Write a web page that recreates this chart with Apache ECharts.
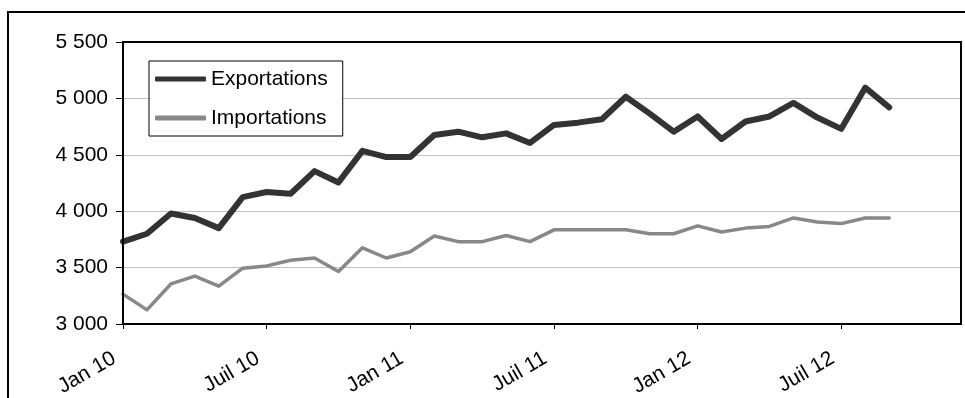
<!DOCTYPE html>
<html>
<head>
<meta charset="utf-8">
<script src="https://cdn.jsdelivr.net/npm/echarts@6/dist/echarts.min.js"></script>
<style>
  html, body { margin: 0; padding: 0; background: #fff; }
  #chart { width: 965px; height: 398px; }
</style>
</head>
<body>
<div id="chart"></div>
<script>
// Monthly categories, Jan 2010 to Dec 2012
const categories = [
  'Jan 10','Fév 10','Mars 10','Avr 10','Mai 10','Juin 10','Juil 10','Août 10','Sept 10','Oct 10','Nov 10','Déc 10',
  'Jan 11','Fév 11','Mars 11','Avr 11','Mai 11','Juin 11','Juil 11','Août 11','Sept 11','Oct 11','Nov 11','Déc 11',
  'Jan 12','Fév 12','Mars 12','Avr 12','Mai 12','Juin 12','Juil 12','Août 12','Sept 12','Oct 12','Nov 12','Déc 12'
];

const exportations = [
  3730, 3800, 3980, 3940, 3850, 4125, 4170, 4155, 4355, 4255, 4535, 4480,
  4480, 4675, 4705, 4655, 4690, 4605, 4765, 4785, 4815, 5015, 4865, 4705,
  4840, 4640, 4795, 4840, 4960, 4830, 4730, 5095, 4920
];

const importations = [
  3265, 3125, 3355, 3425, 3335, 3495, 3515, 3565, 3585, 3465, 3675, 3585,
  3640, 3780, 3730, 3730, 3785, 3730, 3835, 3835, 3835, 3835, 3800, 3800,
  3870, 3815, 3850, 3865, 3940, 3905, 3890, 3940, 3940
];

const yTicks = { min: 3000, max: 5500, step: 500 };

const FONT = "'Liberation Sans', Arial, sans-serif";

// Plot area placement (pixels)
const PLOT = { left: 123, top: 42, right: 4, bottom: 74 };
const W = 965, H = 398;

function frNumber(v) {
  return String(v).replace(/\B(?=(\d{3})+(?!\d))/g, ' ');
}

const chart = echarts.init(document.getElementById('chart'), null, { renderer: 'canvas' });

chart.setOption({
  animation: false,
  backgroundColor: '#fff',
  textStyle: { fontFamily: FONT },
  graphic: [
    {
      // outer chart frame
      type: 'rect',
      z: -1,
      shape: { x: 8, y: 12, width: 1100, height: 600 },
      style: { fill: 'none', stroke: '#000', lineWidth: 2 }
    },
    {
      // plot area frame
      type: 'rect',
      z: 50,
      silent: true,
      shape: {
        x: PLOT.left,
        y: PLOT.top,
        width: W - PLOT.left - PLOT.right,
        height: H - PLOT.top - PLOT.bottom
      },
      style: { fill: 'none', stroke: '#000', lineWidth: 2 }
    }
  ],
  grid: {
    left: PLOT.left, top: PLOT.top, right: PLOT.right, bottom: PLOT.bottom,
    containLabel: false,
    outerBoundsMode: 'none',
    show: false
  },
  legend: {
    orient: 'vertical',
    left: 149,
    top: 61,
    padding: [7, 15, 7, 6],
    itemGap: 17,
    itemWidth: 51,
    itemHeight: 5,
    backgroundColor: '#fff',
    borderColor: '#000',
    borderWidth: 1,
    borderRadius: 0,
    z: 60,
    textStyle: { fontFamily: FONT, fontSize: 21, color: '#000', lineHeight: 22 },
    data: [
      { name: 'Exportations', icon: 'roundRect', itemStyle: { color: '#333' } },
      { name: 'Importations', icon: 'roundRect', itemStyle: { color: '#888' } }
    ]
  },
  xAxis: {
    type: 'category',
    data: categories,
    boundaryGap: false,
    axisLine: { lineStyle: { color: '#000', width: 2 } },
    axisTick: { interval: 5, length: 5, lineStyle: { color: '#000', width: 1 } },
    axisLabel: {
      interval: 5,
      rotate: 30,
      margin: 28,
      padding: [0, 10, 0, 0],
      fontFamily: FONT,
      fontSize: 21,
      color: '#000'
    },
    splitLine: { show: false }
  },
  yAxis: {
    type: 'value',
    min: yTicks.min,
    max: yTicks.max,
    interval: yTicks.step,
    axisLine: { show: true, lineStyle: { color: '#000', width: 2 } },
    axisTick: { show: true, inside: false, length: 7, lineStyle: { color: '#000', width: 1 } },
    axisLabel: {
      margin: 15,
      fontFamily: FONT,
      fontSize: 21,
      color: '#000',
      formatter: frNumber
    },
    splitLine: { lineStyle: { color: '#c0c0c0', width: 1 } }
  },
  series: [
    {
      name: 'Exportations',
      type: 'line',
      data: exportations,
      symbol: 'none',
      z: 3,
      color: '#333',
      lineStyle: { color: '#333', width: 6, cap: 'round', join: 'round' }
    },
    {
      name: 'Importations',
      type: 'line',
      data: importations,
      symbol: 'none',
      z: 2,
      color: '#888',
      lineStyle: { color: '#888', width: 3.5, cap: 'round', join: 'round' }
    }
  ]
});
</script>
</body>
</html>
